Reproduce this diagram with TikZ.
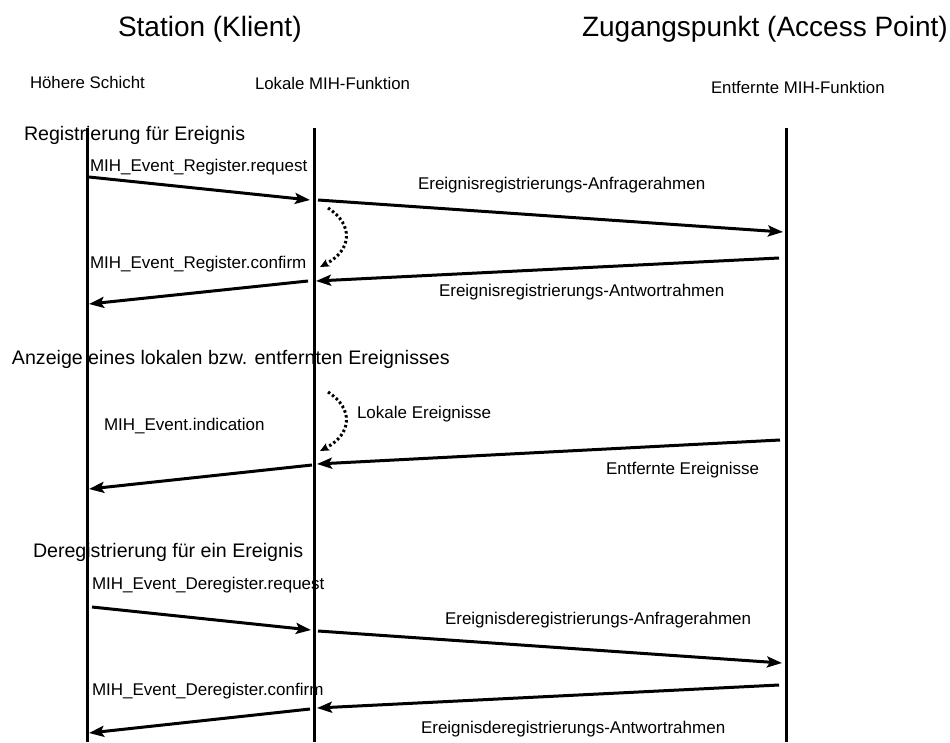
\documentclass[tikz,border=0pt]{standalone}
\usepackage{fontspec}
\setmainfont{Liberation Sans}
\usetikzlibrary{arrows.meta}
\begin{document}
\begin{tikzpicture}[x=1pt,y=-1pt,
  txt/.style={anchor=base west,inner sep=0pt,outer sep=0pt},
  heading/.style={txt,font=\fontsize{28}{34}\selectfont},
  party/.style={txt,font=\fontsize{16.8}{20}\selectfont},
  phase/.style={txt,font=\fontsize{19.6}{24}\selectfont},
  msglabel/.style={txt,font=\fontsize{17}{20}\selectfont},
  lifeline/.style={line width=3pt},
  msg/.style={line width=3pt,-{Stealth[length=15pt,width=11pt,inset=3pt]}},
  localevt/.style={line width=3pt,dash pattern=on 2.5pt off 2.5pt,
    -{Stealth[length=9pt,width=8pt,inset=2pt]}}]
\useasboundingbox (0,0) rectangle (950,742);

% headings
\node[heading] (hsta) at (118,36) {Station (Klient)};
\node[heading] (hap)  at (582,36) {Zugangspunkt (Access Point)};
\node[party] (phigh)  at (30,88)  {Höhere Schicht};
\node[party] (plocal) at (255,89) {Lokale MIH-Funktion};
\node[party] (premot) at (711,93) {Entfernte MIH-Funktion};

% phase titles
\node[phase] (ph1) at (24,140) {Registrierung für Ereignis};
\node[phase] (ph2) at (12,364) {Anzeige eines lokalen bzw. entfernten Ereignisses};
\node[phase] (ph3) at (33,557) {Deregistrierung für ein Ereignis};

% message labels
\node[msglabel] (l1) at (90,171)  {MIH\_Event\_Register.request};
\node[msglabel] (l2) at (418,189) {Ereignisregistrierungs-Anfragerahmen};
\node[msglabel] (l3) at (90,268)  {MIH\_Event\_Register.confirm};
\node[msglabel] (l4) at (439,296) {Ereignisregistrierungs-Antwortrahmen};
\node[msglabel] (l5) at (357,418) {Lokale Ereignisse};
\node[msglabel] (l6) at (104,430) {MIH\_Event.indication};
\node[msglabel] (l7) at (606,474) {Entfernte Ereignisse};
\node[msglabel] (l8) at (92,589)  {MIH\_Event\_Deregister.request};
\node[msglabel] (l9) at (445,624) {Ereignisderegistrierungs-Anfragerahmen};
\node[msglabel] (l10) at (92,695) {MIH\_Event\_Deregister.confirm};
\node[msglabel] (l11) at (421,733) {Ereignisderegistrierungs-Antwortrahmen};

% lifelines
\coordinate (hlTop) at (87.5,128); \coordinate (hlBot) at (87.5,742);
\coordinate (lmTop) at (314,128);  \coordinate (lmBot) at (314,742);
\coordinate (rmTop) at (786,128);  \coordinate (rmBot) at (786,742);
\draw[lifeline] (hlTop) -- (hlBot);
\draw[lifeline] (lmTop) -- (lmBot);
\draw[lifeline] (rmTop) -- (rmBot);

% registration
\coordinate (a1) at (89,177);  \coordinate (b1) at (310,200);
\coordinate (a2) at (318,200); \coordinate (b2) at (783,232);
\coordinate (a3) at (779,258); \coordinate (b3) at (316,281);
\coordinate (a4) at (308,281); \coordinate (b4) at (89,304);
\coordinate (c1) at (328,208); \coordinate (d1) at (320,267);
\draw[msg] (a1) -- (b1);
\draw[msg] (a2) -- (b2);
\draw[msg] (a3) -- (b3);
\draw[msg] (a4) -- (b4);
\draw[localevt] (c1) .. controls (354,225) and (352,250) .. (d1);

% indication
\coordinate (c2) at (328,392); \coordinate (d2) at (320,451);
\coordinate (a5) at (780,440); \coordinate (b5) at (317,464);
\coordinate (a6) at (312,465); \coordinate (b6) at (89,489);
\draw[localevt] (c2) .. controls (354,409) and (352,434) .. (d2);
\draw[msg] (a5) -- (b5);
\draw[msg] (a6) -- (b6);

% deregistration
\coordinate (a7) at (92,607);  \coordinate (b7) at (311,630);
\coordinate (a8) at (318,631); \coordinate (b8) at (782,663);
\coordinate (a9) at (779,685); \coordinate (b9) at (317,708);
\coordinate (a10) at (310,709); \coordinate (b10) at (89,733);
\draw[msg] (a7) -- (b7);
\draw[msg] (a8) -- (b8);
\draw[msg] (a9) -- (b9);
\draw[msg] (a10) -- (b10);
\end{tikzpicture}
\end{document}
